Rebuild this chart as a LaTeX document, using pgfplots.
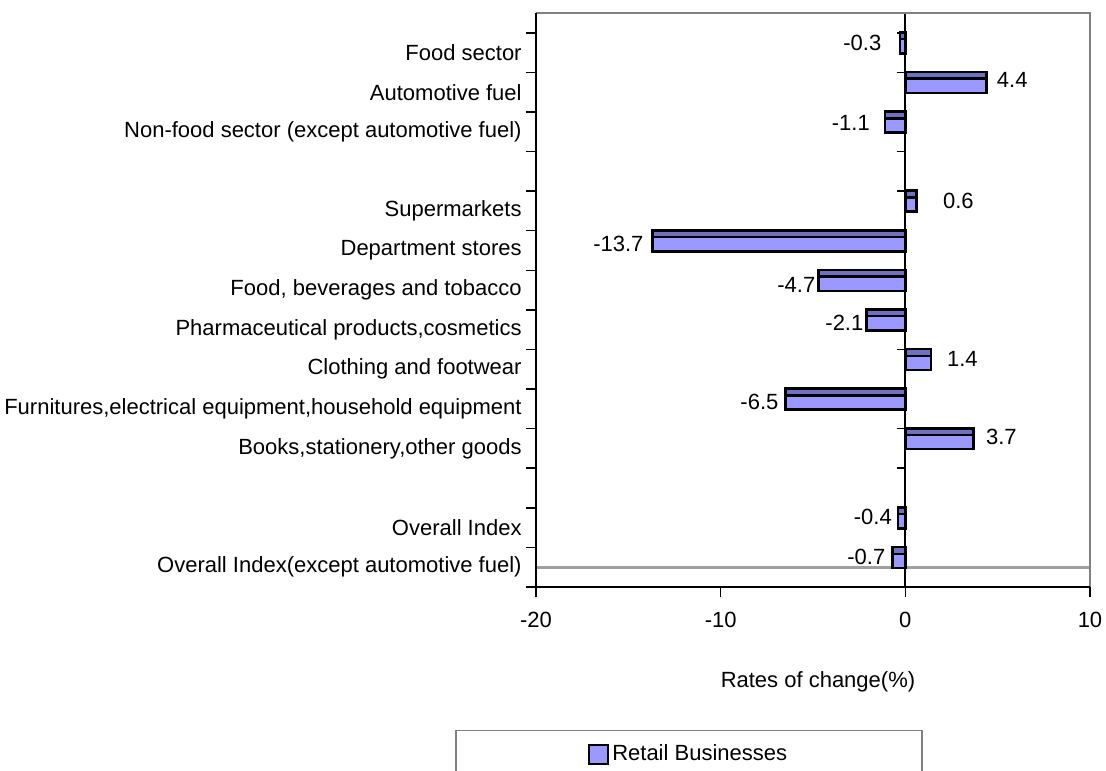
\documentclass[border=0pt]{standalone}
\usepackage{fontspec}
\setmainfont{Liberation Sans}
\usepackage{pgfplots}
\pgfplotsset{compat=1.18}
\definecolor{barlight}{RGB}{153,153,255}
\definecolor{bardark}{RGB}{112,112,192}
\definecolor{framegray}{RGB}{128,128,128}
\definecolor{linegray}{RGB}{160,160,160}
\begin{document}
\fontsize{11bp}{13.2bp}\selectfont
\begin{tikzpicture}
\useasboundingbox (-268bp,-92bp) rectangle (285bp,293.5bp);
\begin{axis}[
  at={(0,0)}, anchor=south west,
  scale only axis, width=277bp, height=287bp,
  xmin=-20, xmax=10, ymin=0, ymax=14.5, y dir=reverse,
  xtick={-20,-10,0,10},
  ytick={1,...,14},
  yticklabels={Food sector, Automotive fuel, Non-food sector (except automotive fuel), {}, Supermarkets, Department stores, {Food, beverages and tobacco}, {Pharmaceutical products,cosmetics}, Clothing and footwear, {Furnitures,electrical equipment,household equipment}, {Books,stationery,other goods}, {}, Overall Index, Overall Index(except automotive fuel)},
  minor ytick={0.5,1.5,...,14.5},
  xtick pos=bottom, ytick pos=left,
  tick align=outside,
  major tick length=5bp, minor tick length=5bp,
  tick style={black, line width=0.75bp},
  every major y tick/.append style={draw=none},
  axis line style={draw=none},
  /pgf/number format/assume math mode=true,
  yticklabel style={inner xsep=2bp},
  xticklabel style={yshift=-3.5bp},
  xlabel={Rates of change(\%)},
  x label style={at={(axis description cs:0.509,-0.165)}, anchor=center},
  legend style={at={(axis description cs:0.2762,-0.2491)}, anchor=north, draw=framegray, line width=0.75bp, inner xsep=66bp, inner ysep=5bp, nodes={inner xsep=1.5bp, inner ysep=2bp}},
  legend cell align=left,
  clip=false,
]
\draw[linegray, line width=1.5bp] (axis cs:-20,14) -- (axis cs:10,14);
\pgfplotsinvokeforeach{0.5,1.5,...,14.5}{\draw[black, line width=0.75bp] ([xshift=-4bp]axis cs:0,#1) -- (axis cs:0,#1);}
\draw[black, line width=1bp] (axis cs:0,0) -- (axis cs:0,14.5);
\addplot[xbar, bar shift=0pt, bar width=0.53, fill=barlight, draw=black, line width=1.25bp,
  legend image code/.code={\draw[fill=barlight, draw=black, line width=1.1bp] (0bp,-4.9bp) rectangle (9.6bp,4.7bp);}]
  table {
x y
-0.3 0.755
4.4 1.755
-1.1 2.755
0.6 4.755
-13.7 5.755
-4.7 6.755
-2.1 7.755
1.4 8.755
-6.5 9.755
3.7 10.755
-0.4 12.755
-0.7 13.755
};
\addlegendentry{Retail Businesses}
\addplot[xbar, bar shift=0pt, bar width=0.17, fill=bardark, draw=black, line width=1.25bp, forget plot]
  table {
x y
-0.3 0.575
4.4 1.575
-1.1 2.575
0.6 4.575
-13.7 5.575
-4.7 6.575
-2.1 7.575
1.4 8.575
-6.5 9.575
3.7 10.575
-0.4 12.575
-0.7 13.575
};
\addplot[draw=none, mark=none, forget plot, nodes near coords, point meta=explicit symbolic,
  every node near coord/.append style={anchor=center, inner sep=0pt, black}]
  table[meta=lab] {
x y lab
-2.33 0.753 -0.3
5.79 1.687 4.4
-2.95 2.773 -1.1
2.87 4.742 0.6
-15.54 5.83 -13.7
-5.9 6.86 -4.7
-3.3 7.82 -2.1
3.09 8.73 1.4
-7.9 9.82 -6.5
5.2 10.70 3.7
-1.76 12.72 -0.4
-2.11 13.73 -0.7
};
\draw[framegray, line width=1.25bp] (axis cs:-20,0) -- (axis cs:10,0) -- (axis cs:10,14.5);
\draw[black, line width=1bp] (axis cs:-20,0) -- (axis cs:-20,14.5) -- (axis cs:10,14.5);
\end{axis}
\end{tikzpicture}
\end{document}
